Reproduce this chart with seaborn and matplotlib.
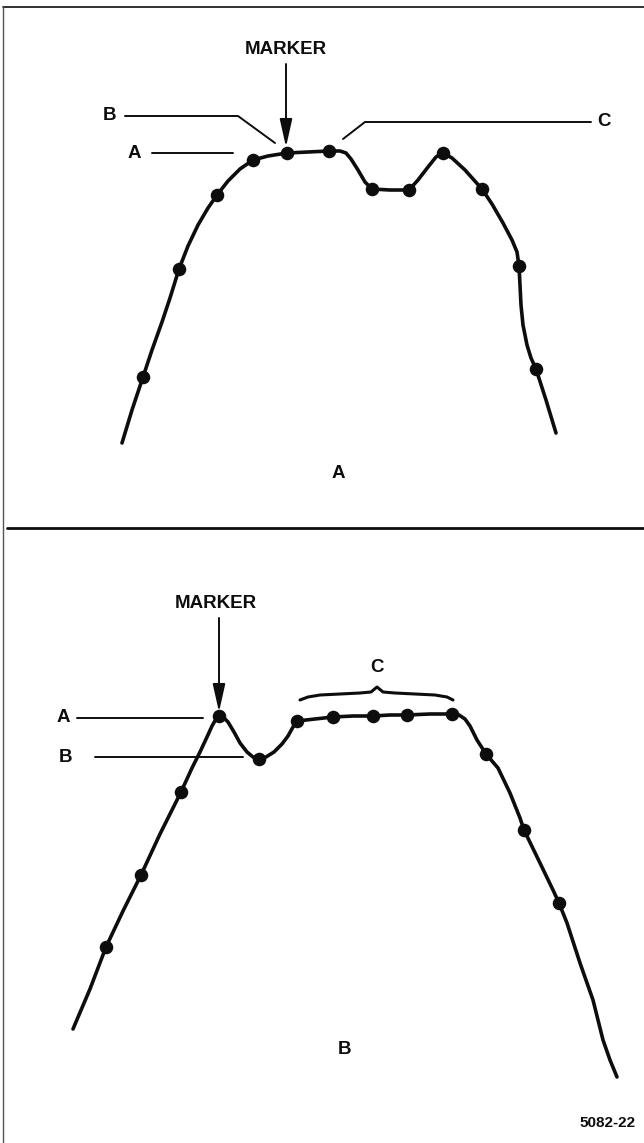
import matplotlib
matplotlib.use("Agg")
import matplotlib.pyplot as plt
import seaborn as sns
import pandas as pd

# ---------------- data (pixel-like units) ----------------
# Panel A trace
top_trace_x = [122, 132, 143, 152, 162, 170, 179, 188, 198, 208, 217, 228, 240, 253, 268, 287,
               308, 329, 340, 346, 351, 358, 365, 372, 390, 409, 418, 428, 436, 443, 452, 465, 482,
               492, 503, 512, 517, 519, 520, 521, 523, 527, 531, 536, 546, 556]
top_trace_y = [443, 410, 377, 350, 322, 298, 269, 246, 225, 208, 195, 181, 169, 160, 156, 153,
               152, 151, 151, 153, 159, 170, 182, 189, 190, 190, 180, 167, 157, 153, 158, 170, 189,
               204, 223, 240, 252, 266, 285, 305, 325, 345, 358, 369, 400, 433]
top_dot_x = [143, 179, 217, 253, 287, 329, 372, 409, 443, 482, 519, 536]
top_dot_y = [377, 269, 195, 160, 153, 151, 189, 190, 153, 189, 266, 369]

# Panel B trace
bot_trace_x = [73, 90, 106, 123, 141, 160, 181, 192, 200, 207, 212, 216, 219, 223, 228, 234,
               240, 247, 253, 259, 266, 274, 282, 288, 293, 297, 315, 333, 353, 373, 390, 407,
               430, 452, 459, 465, 470, 477, 486, 498, 510, 520, 524, 540, 553, 559, 567, 580,
               593, 603, 610, 617]
bot_trace_y = [1029, 989, 947, 911, 875, 834, 792, 768, 752, 737, 726, 719, 716, 717, 722, 732,
               743, 752, 757, 759, 757, 752, 744, 736, 727, 721, 719, 717, 716, 716, 715, 715,
               714, 714, 715, 719, 726, 740, 754, 768, 793, 818, 830, 863, 890, 903, 923, 963,
               1000, 1040, 1060, 1077]
bot_dot_x = [106, 141, 181, 219, 259, 297, 333, 373, 407, 452, 486, 524, 559]
bot_dot_y = [947, 875, 792, 716, 759, 721, 717, 716, 715, 714, 754, 830, 903]

# Brace over region C (panel B)
brace_x = [300, 308, 320, 340, 360, 371, 377, 383, 395, 415, 435, 447, 453]
brace_y = [700, 697, 695, 694, 693, 692, 687, 692, 693, 694, 695, 697, 700]

# Leader lines: (label, text_x, text_y, line_x list, line_y list)
top_leaders = [
    ("B", 110, 116, [125, 238, 275], [116, 116, 143]),
    ("A", 134, 153, [152, 233], [153, 153]),
    ("C", 604, 122, [591, 365, 343], [122, 122, 139]),
]
bot_leaders = [
    ("A", 63, 718, [77, 203], [718, 718]),
    ("B", 66, 757, [95, 243], [757, 757]),
]

# Marker arrows: (text_x, text_y, arrow_x, start_y, tip_y)
markers = [(286, 50, 286, 64, 147), (216, 603, 219, 618, 712)]

panel_labels = [("A", 338, 473), ("B", 345, 1050), ("C", 377, 668)]
figure_code = ("5082-22", 636, 1123)

# ---------------- drawing ----------------
sns.set_theme(style="white")
plt.rcParams["font.family"] = ["Liberation Sans", "DejaVu Sans"]

fig = plt.figure(figsize=(6.44, 11.43), dpi=100)
ax = fig.add_axes([0, 0, 1, 1])
ax.set_xlim(0, 644)
ax.set_ylim(1143, 0)
ax.axis("off")

ink = "#0d0d0d"

df_top = pd.DataFrame({"x": top_trace_x, "y": top_trace_y})
df_bot = pd.DataFrame({"x": bot_trace_x, "y": bot_trace_y})
for d in (df_top, df_bot):
    sns.lineplot(data=d, x="x", y="y", sort=False, estimator=None, color=ink, lw=2.6,
                 solid_joinstyle="round", solid_capstyle="round", ax=ax)
sns.scatterplot(x=top_dot_x, y=top_dot_y, s=95, color=ink, edgecolor=ink, linewidth=0, ax=ax, zorder=5)
sns.scatterplot(x=bot_dot_x, y=bot_dot_y, s=95, color=ink, edgecolor=ink, linewidth=0, ax=ax, zorder=5)

# brace
ax.plot(brace_x, brace_y, color=ink, lw=2.2, solid_capstyle="round", solid_joinstyle="round")

# leader lines and labels
txt_kw = dict(fontsize=13.5, fontweight="bold", color=ink, va="center", ha="center")
for lab, tx, ty, lx, ly in top_leaders + bot_leaders:
    ax.plot(lx, ly, color=ink, lw=1.4)
    ax.text(tx, ty, lab, **txt_kw)

# marker arrows
for tx, ty, axx, y0, y1 in markers:
    ax.text(tx, ty, "MARKER", **txt_kw)
    ax.annotate("", xy=(axx, y1), xytext=(axx, y0),
                arrowprops=dict(arrowstyle="-|>,head_length=1.7,head_width=0.38",
                                mutation_scale=10, color=ink, lw=1.4,
                                shrinkA=0, shrinkB=0))

for lab, tx, ty in panel_labels:
    ax.text(tx, ty, lab, **txt_kw)

ax.text(figure_code[1], figure_code[2], figure_code[0], fontsize=11, fontweight="bold",
        color=ink, va="center", ha="right")

# frame lines
ax.plot([3, 644], [7, 7], color=ink, lw=1.2)
ax.plot([3, 3], [7, 1143], color="#555555", lw=1.0)
ax.plot([7, 644], [528, 528], color=ink, lw=2.0)

fig.savefig("out.png", dpi=100)
